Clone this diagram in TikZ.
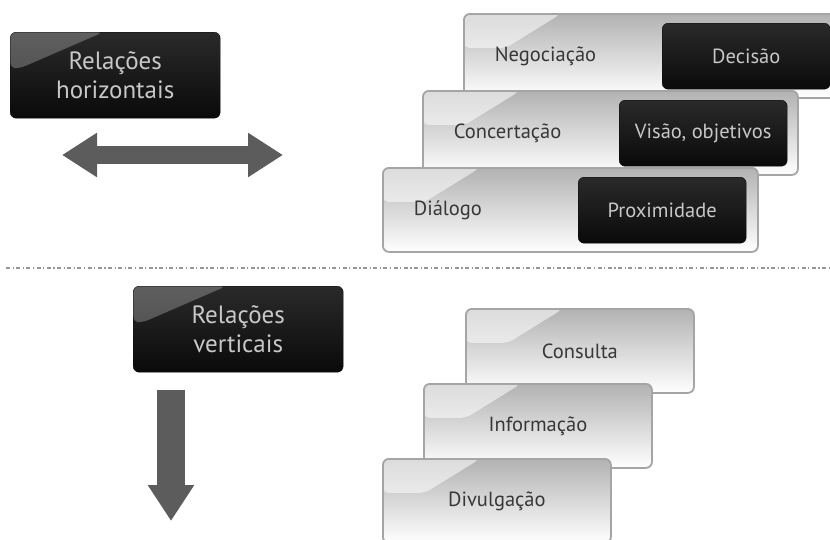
\documentclass[tikz,border=0pt]{standalone}
\usepackage{fontspec}
\setmainfont{PT Sans}
\usepackage{tikz}
\usetikzlibrary{arrows.meta,positioning}
\usepackage{xcolor}
\definecolor{boxblack} {RGB}{ 10, 10, 10}
\definecolor{boxtop}   {RGB}{ 42, 42, 42}
\definecolor{boxtext}  {RGB}{200,200,200}
\definecolor{stepgrey} {RGB}{178,178,178}
\definecolor{stepedge} {RGB}{165,165,165}
\definecolor{steptext} {RGB}{ 55, 55, 55}
\definecolor{arrowgrey}{RGB}{ 92, 92, 92}
\definecolor{sepgrey}  {RGB}{150,150,150}

\begin{document}
\begin{tikzpicture}[
    x=1pt, y=-1pt,
    darkbox/.style={draw=boxblack, rounded corners=6pt, top color=boxtop, bottom color=boxblack, text=boxtext, align=center, anchor=north west, inner sep=0pt},
    headbox/.style={darkbox, minimum width=210pt, minimum height=86pt, font=\fontsize{25}{29}\selectfont,
        path picture={\fill[white, opacity=0.25] (path picture bounding box.north west) -- ++(93pt,0pt) -- ++(-83pt,-36pt) -- ++(-10pt,0pt) -- cycle;}},
    tagbox/.style={darkbox, minimum width=168pt, minimum height=66pt, font=\fontsize{20.5}{24}\selectfont},
    greybox/.style={draw=stepedge, line width=1.8pt, rounded corners=6pt, top color=stepgrey, bottom color=white, anchor=north west, minimum height=84pt, text=steptext, font=\fontsize{20.5}{24}\selectfont,
        path picture={\fill[white, opacity=0.55] (path picture bounding box.north west) -- ++(97pt,0pt) -- ++(-55pt,-34pt) -- ++(-42pt,0pt) -- cycle;}},
    levelbox/.style={greybox, inner xsep=31pt, text width=313pt, align=left},
    stepbox/.style={greybox, minimum width=228pt, align=center},
    bigarrow/.style={draw=arrowgrey, line width=18pt},
    sepline/.style={draw=sepgrey, line width=1.5pt, dash pattern=on 4pt off 2.5pt on 1.2pt off 2.5pt}
]
    \useasboundingbox (0,0) rectangle (830,539);
    \clip (0,0) rectangle (830,539);

    % horizontal relations
    \node[headbox] (hrel) at (10,32) {Relações\\horizontais};
    \coordinate (hleft) at (62,155);
    \coordinate (hright) at (283,155);
    \draw[bigarrow, {Triangle[length=35pt,width=42pt]}-{Triangle[length=35pt,width=42pt]}] (hleft) -- (hright);

    \node[levelbox] (nego) at (463,13) {Negociação};
    \node[tagbox] (decisao) at (662,23) {Decisão};
    \node[levelbox] (conc) at (422,90) {Concertação};
    \node[tagbox] (visao) at (619,100) {Visão, objetivos};
    \node[levelbox] (dialogo) at (382,167) {Diálogo};
    \node[tagbox] (prox) at (578,177) {Proximidade};

    % separator
    \coordinate (sepL) at (6,268);
    \coordinate (sepR) at (832,268);
    \draw[sepline] (sepL) -- (sepR);

    % vertical relations
    \node[headbox] (vrel) at (133,286) {Relações\\verticais};
    \coordinate (vtop) at (171,390);
    \coordinate (vtip) at (171,521);
    \draw[bigarrow, line width=28pt, -{Triangle[length=36pt,width=44pt]}] (vtop) -- (vtip);

    \node[stepbox] (consulta) at (465,308) {Consulta};
    \node[stepbox] (info) at (423,383) {Informação};
    \node[stepbox] (divulg) at (382,458) {Divulgação};
\end{tikzpicture}
\end{document}
